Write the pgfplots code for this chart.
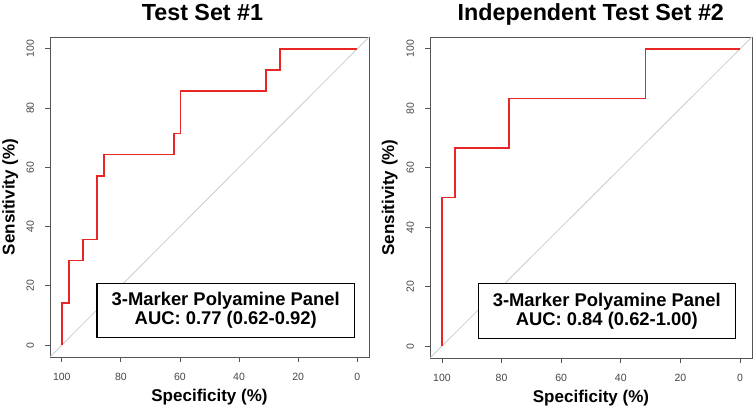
\documentclass[border=0pt]{standalone}
\usepackage{fontspec}
\setmainfont{Liberation Sans}
\usepackage{pgfplots}
\pgfplotsset{compat=1.18}
\definecolor{roc}{RGB}{232,38,38}
\definecolor{axisgray}{RGB}{85,85,85}
\definecolor{tickgray}{RGB}{70,70,70}
\definecolor{diag}{RGB}{205,205,205}
\pgfplotsset{rocaxis/.style={
  scale only axis, x dir=reverse,
  xmin=-4, xmax=104, ymin=-4, ymax=104,
  xtick={0,20,...,100}, ytick={0,20,...,100},
  tick align=outside, xtick pos=left, ytick pos=left,
  major tick length=5bp,
  tick style={axisgray, line width=0.8bp},
  axis line style={axisgray, line width=0.9bp},
  /pgf/number format/assume math mode=true,
  ticklabel style={font=\fontsize{10.5bp}{12bp}\selectfont, text=tickgray, inner sep=0pt},
  xticklabel style={anchor=north, yshift=-11bp},
  yticklabel style={xshift=-10.75bp, rotate=90, anchor=south},
  xlabel={Specificity (\%)}, ylabel={Sensitivity (\%)},
  label style={font=\fontsize{17bp}{20bp}\selectfont\bfseries},
  xlabel style={at={(axis description cs:0.5,-0.125)}, anchor=center},
  ylabel style={at={(axis description cs:-0.125,0.5)}, anchor=center},
}}
\begin{document}
\begin{tikzpicture}
\useasboundingbox (0,0) rectangle (755bp,409bp);
\node[anchor=base, font=\fontsize{23.3bp}{28bp}\selectfont\bfseries] at (202.5bp,388.3bp) {Test Set \#1};
\node[anchor=base, font=\fontsize{23.3bp}{28bp}\selectfont\bfseries] at (590.8bp,388.3bp) {Independent Test Set \#2};
\begin{axis}[rocaxis, at={(50bp,52bp)}, anchor=south west, width=319bp, height=320bp]
\addplot[diag, line width=0.8bp] coordinates {(104,-4) (-4,104)};
\addplot[roc, line width=1.7bp] coordinates {
(100,0) (100,14.3) (97.6,14.3) (97.6,28.6) (92.9,28.6) (92.9,35.7)
(88.1,35.7) (88.1,57.1) (85.7,57.1) (85.7,64.3) (61.9,64.3) (61.9,71.4)
(59.8,71.4) (59.8,85.7) (30.9,85.7) (30.9,92.9) (26.1,92.9) (26.1,100) (0,100)};
\node[draw=black, line width=1.2bp, fill=white, minimum width=257.6bp, minimum height=54.3bp,
  inner sep=0pt, align=center, font=\fontsize{18.4bp}{19.5bp}\selectfont\bfseries]
  at (axis cs:44.5,11.7) {3-Marker Polyamine Panel\\AUC: 0.77 (0.62-0.92)};
\end{axis}
\begin{axis}[rocaxis, at={(430bp,51bp)}, anchor=south west, width=322bp, height=321bp]
\addplot[diag, line width=0.8bp] coordinates {(104,-4) (-4,104)};
\addplot[roc, line width=1.7bp] coordinates {
(100,0) (100,50) (95.7,50) (95.7,66.7) (77.5,66.7) (77.5,83.3)
(31.7,83.3) (31.7,100) (0,100)};
\node[draw=black, line width=1.2bp, fill=white, minimum width=257.3bp, minimum height=54.3bp,
  inner sep=0pt, align=center, font=\fontsize{18.4bp}{19.5bp}\selectfont\bfseries]
  at (axis cs:44.7,11.8) {3-Marker Polyamine Panel\\AUC: 0.84 (0.62-1.00)};
\end{axis}
\end{tikzpicture}
\end{document}
